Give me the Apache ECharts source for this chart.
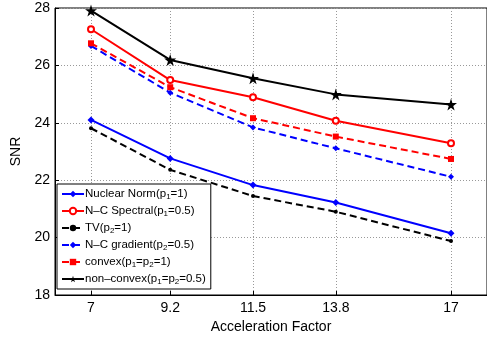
<!DOCTYPE html>
<html>
<head>
<meta charset="utf-8">
<script src="https://cdn.jsdelivr.net/npm/echarts@6/dist/echarts.min.js"></script>
<style>
  html, body { margin: 0; padding: 0; background: #fff; }
  #main { width: 487px; height: 339px; }
</style>
</head>
<body>
<div id="main"></div>
<script>
var factors = [7, 9.2, 11.5, 13.8, 17];
var yTicks = [18, 20, 22, 24, 26, 28];

var nuclearNorm = [24.10, 22.76, 21.83, 21.22, 20.15];
var ncSpectral = [27.26, 25.49, 24.89, 24.07, 23.29];
var tv = [23.81, 22.36, 21.45, 20.90, 19.88];
var ncGradient = [26.68, 25.05, 23.84, 23.11, 22.12];
var convex = [26.77, 25.24, 24.16, 23.52, 22.74];
var nonConvex = [27.91, 26.19, 25.55, 24.99, 24.64];

var STAR = 'path://M50,0 L61,35 L98,35 L68,57 L79,91 L50,70 L21,91 L32,57 L2,35 L39,35 Z';

function pairs(vals) {
  return factors.map(function (f, i) { return [f, vals[i]]; });
}

function line(name, vals, color, dashed, symbol, size, empty) {
  return {
    name: name,
    type: 'line',
    data: pairs(vals),
    symbol: symbol,
    symbolSize: size,
    showAllSymbol: true,
    lineStyle: { color: color, width: 2, type: dashed ? [7, 4] : 'solid' },
    itemStyle: { color: empty ? '#fff' : color, borderColor: color, borderWidth: empty ? 2 : 0 },
    z: 3
  };
}

var chart = echarts.init(document.getElementById('main'));

chart.setOption({
  animation: false,
  textStyle: { fontFamily: 'Liberation Sans' },
  grid: {
    left: 55, top: 8, right: -7, bottom: 44,
    show: true, borderColor: '#000', borderWidth: 1
  },
  legend: {
    orient: 'vertical',
    left: 57, top: 184,
    padding: [4, 5, 3, 4],
    itemGap: 4,
    itemWidth: 22,
    itemHeight: 8,
    backgroundColor: '#fff',
    borderColor: '#000',
    borderWidth: 1,
    borderRadius: 0,
    textStyle: {
      fontSize: 11.5, color: '#000', padding: [0, 0, 0, -4],
      rich: {
        s: { fontSize: 8, verticalAlign: 'bottom', padding: [6, 0, 0, 0] }
      }
    },
    formatter: function (n) {
      return n.replace(/p(\d)/g, 'p{s|$1}');
    },
    data: [
      'Nuclear Norm(p1=1)',
      'N\u2013C Spectral(p1=0.5)',
      'TV(p2=1)',
      'N\u2013C gradient(p2=0.5)',
      'convex(p1=p2=1)',
      'non\u2013convex(p1=p2=0.5)'
    ]
  },
  xAxis: {
    type: 'value',
    min: 6, max: 18,
    name: 'Acceleration Factor',
    nameLocation: 'middle',
    nameGap: 23,
    nameTextStyle: { fontSize: 14, color: '#000' },
    axisLine: { lineStyle: { color: '#000' } },
    axisTick: { inside: true, length: 4, customValues: factors, lineStyle: { color: '#000' } },
    axisLabel: { customValues: factors, fontSize: 14, color: '#000', margin: 6 },
    splitLine: { show: true, lineStyle: { color: '#999', type: [1, 2] } }
  },
  yAxis: {
    type: 'value',
    min: 18, max: 28, interval: 2,
    name: 'SNR',
    nameLocation: 'middle',
    nameGap: 16,
    nameRotate: 90,
    nameTextStyle: { fontSize: 14, color: '#000' },
    axisLine: { show: true, lineStyle: { color: '#000' } },
    axisTick: { show: true, inside: true, length: 4, lineStyle: { color: '#000' } },
    axisLabel: { fontSize: 14, color: '#000', margin: 5 },
    splitLine: { show: true, lineStyle: { color: '#999', type: [1, 2] } }
  },
  series: [
    line('Nuclear Norm(p1=1)', nuclearNorm, '#0000ff', false, 'diamond', 7),
    line('N\u2013C Spectral(p1=0.5)', ncSpectral, '#ff0000', false, 'circle', 6, true),
    line('TV(p2=1)', tv, '#000000', true, 'circle', 4),
    line('N\u2013C gradient(p2=0.5)', ncGradient, '#0000ff', true, 'diamond', 6),
    line('convex(p1=p2=1)', convex, '#ff0000', true, 'rect', 6),
    line('non\u2013convex(p1=p2=0.5)', nonConvex, '#000000', false, STAR, 12)
  ]
});
</script>
</body>
</html>
